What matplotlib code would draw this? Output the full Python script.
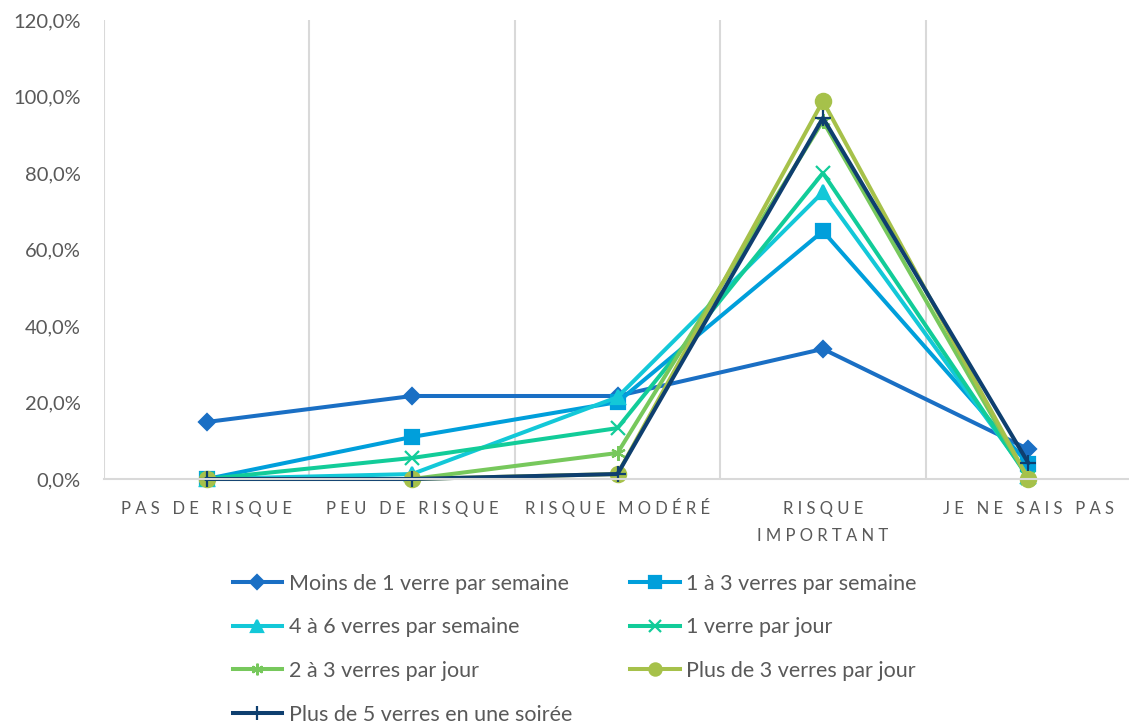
import matplotlib.pyplot as plt
from matplotlib.ticker import FuncFormatter

plt.rcParams["font.family"] = ["Lato", "DejaVu Sans"]

# Categories and series (percent values)
categories = ["P A S   D E   R I S Q U E", "P E U   D E   R I S Q U E",
              "R I S Q U E   M O D É R É", "R I S Q U E\nI M P O R T A N T",
              "J E   N E   S A I S   P A S"]
series_names = ["Moins de 1 verre par semaine", "1 à 3 verres par semaine",
                "4 à 6 verres par semaine", "1 verre par jour",
                "2 à 3 verres par jour", "Plus de 3 verres par jour",
                "Plus de 5 verres en une soirée"]
moins_1_semaine = [14.9, 21.7, 21.7, 34.0, 7.8]
un_3_semaine = [0.0, 11.0, 20.1, 64.8, 3.9]
quatre_6_semaine = [0.0, 1.3, 21.4, 75.0, 0.8]
un_jour = [0.0, 5.5, 13.3, 80.0, 0.3]
deux_3_jour = [0.0, 0.0, 6.8, 93.6, 0.0]
plus_3_jour = [0.0, 0.0, 1.3, 98.8, 0.0]
plus_5_soiree = [0.0, 0.0, 1.3, 94.4, 4.2]

values = [moins_1_semaine, un_3_semaine, quatre_6_semaine, un_jour,
          deux_3_jour, plus_3_jour, plus_5_soiree]
colors = ["#1a6fc4", "#009fdb", "#13c8d8", "#12cc99", "#77c85c", "#a6c14a", "#0e3f6f"]
markers = ["D", "s", "^", "x", (6, 2, 0), "o", "+"]
msizes = [8.5, 10, 10, 10.5, 10.5, 11, 12]

fig = plt.figure(figsize=(11.29, 7.24), dpi=100)
ax = fig.add_axes([104 / 1129, 245 / 724, 1027 / 1129, 459 / 724])

x = list(range(len(categories)))
lines = []
for name, vals, c, m, ms in zip(series_names, values, colors, markers, msizes):
    ln, = ax.plot(x, vals, color=c, lw=2.9, marker=m, markersize=ms,
                  markeredgewidth=1.6, label=name, clip_on=False)
    lines.append(ln)

ax.set_xlim(-0.5, 4.5)
ax.set_ylim(0, 120)
ax.set_yticks([0, 20, 40, 60, 80, 100, 120])
ax.yaxis.set_major_formatter(FuncFormatter(lambda v, p: f"{v:.1f}%".replace(".", ",")))
ax.set_xticks(x)
ax.set_xticklabels(categories, fontsize=12, color="#595959", linespacing=1.8)
# keep the accented label on the same line as the others
ax.get_xticklabels()[2].set_y(0.008)

# vertical gridlines between categories
for b in [-0.5, 0.5, 1.5, 2.5, 3.5, 4.5]:
    ax.axvline(b, color="#d9d9d9", lw=1.5, zorder=0)

for s in ["top", "right", "left"]:
    ax.spines[s].set_visible(False)
ax.spines["bottom"].set_color("#d9d9d9")
ax.spines["bottom"].set_linewidth(1.5)
ax.tick_params(axis="both", length=0, colors="#595959")
ax.tick_params(axis="y", labelsize=14.5, pad=17)
ax.tick_params(axis="x", pad=16)

order = [0, 2, 4, 6, 1, 3, 5]
fig.legend([lines[i] for i in order], [series_names[i] for i in order],
           loc="upper left", bbox_to_anchor=(224 / 1129, 1 - 565 / 724),
           ncol=2, frameon=False, fontsize=15.5, labelcolor="#595959",
           handlelength=2.3, handletextpad=0.3, columnspacing=2.7,
           labelspacing=1.1, borderaxespad=0, markerscale=0.8)

fig.savefig("out.png", dpi=100)
